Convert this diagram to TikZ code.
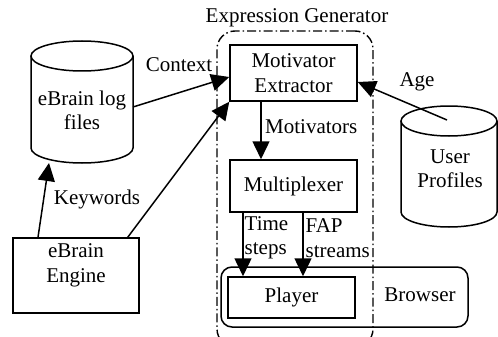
\documentclass[tikz,border=0pt]{standalone}
\usepackage{fontspec}
\setmainfont{Liberation Serif}
\usetikzlibrary{arrows.meta}
\begin{document}
\begin{tikzpicture}[x=1pt,y=1pt,
  every node/.style={font=\fontsize{21}{24.5}\selectfont, inner sep=0pt},
  line/.style={line width=1.5pt},
  box/.style={draw, line width=1.5pt, rectangle},
  frame/.style={draw, line width=1.4pt, rounded corners=18pt,
    dash pattern=on 9pt off 3pt on 1.5pt off 3pt},
  shell/.style={draw, line width=1.5pt, rounded corners=11pt},
  arr/.style={line width=1.5pt, -{Triangle[length=18pt,width=17pt]}},
  lbl/.style={align=center}
]
\useasboundingbox (0,0) rectangle (498,-337);
\clip (0,0) rectangle (498,-337);

% Expression Generator group
\node[frame, minimum width=156pt, minimum height=316pt] (gen) at (295,-189) {};
\node (genlbl) at (297,-18) {Expression Generator};

% Browser shell around the player
\node[shell, minimum width=247pt, minimum height=60pt] (browser) at (344.5,-297) {};
\node (browserlbl) at (420,-295) {Browser};

% Processing boxes
\node[box, minimum width=127pt, minimum height=56pt, align=center] (me) at (293.5,-73) {Motivator\\Extractor};
\node[box, minimum width=127pt, minimum height=52pt] (mux) at (293.5,-186) {Multiplexer};
\node[box, minimum width=127pt, minimum height=41pt] (player) at (291.5,-297.5) {Player};
\node[box, minimum width=126pt, minimum height=75pt] (engine) at (76,-275.5) {};
\node[align=center] (enginelbl) at (76,-265.5) {eBrain\\Engine};

% eBrain log files store
\draw[line] (31,-56) -- (31,-148) arc[start angle=180, end angle=360, x radius=51pt, y radius=15pt] -- (133,-56);
\draw[line] (82,-56) ellipse [x radius=51pt, y radius=15pt];
\node[align=center] (logs) at (82,-110.5) {eBrain log\\files};
\coordinate (logsR) at (133,-107);
\coordinate (logsB) at (49,-163);

% User Profiles store
\draw[line] (401,-121) -- (401,-212) arc[start angle=180, end angle=360, x radius=48pt, y radius=15pt] -- (497,-121);
\draw[line] (449,-121) ellipse [x radius=48pt, y radius=15pt];
\node[align=center] (users) at (450,-168.5) {User\\Profiles};
\coordinate (usersIn) at (447,-120);

% Connectors
\draw[arr] (logsR) -- ([yshift=-4pt]me.west);
\node (ctx) at (179,-65) {Context};
\draw[arr] ([xshift=-12pt]engine.north east) -- (me.south west);
\draw[arr] ([xshift=-38pt]engine.north) -- (logsB);
\node (kw) at (97,-199) {Keywords};
\draw[arr] (usersIn) -- ([yshift=-9pt]me.east);
\node (age) at (417,-82) {Age};
\draw[arr] ([xshift=-32.5pt]me.south) -- ([xshift=-32.5pt]mux.north);
\node[anchor=west] (mot) at (265,-127) {Motivators};
\draw[arr] ([xshift=-50.5pt]mux.south) -- ([xshift=-50.5pt]mux.south |- player.north);
\node[anchor=west, align=left] (ts) at (244.5,-238) {Time\\steps};
\draw[arr] ([xshift=9.5pt]mux.south) -- ([xshift=9.5pt]mux.south |- player.north);
\node[anchor=west, align=left] (fap) at (305.5,-238) {FAP\\streams};
\end{tikzpicture}
\end{document}
